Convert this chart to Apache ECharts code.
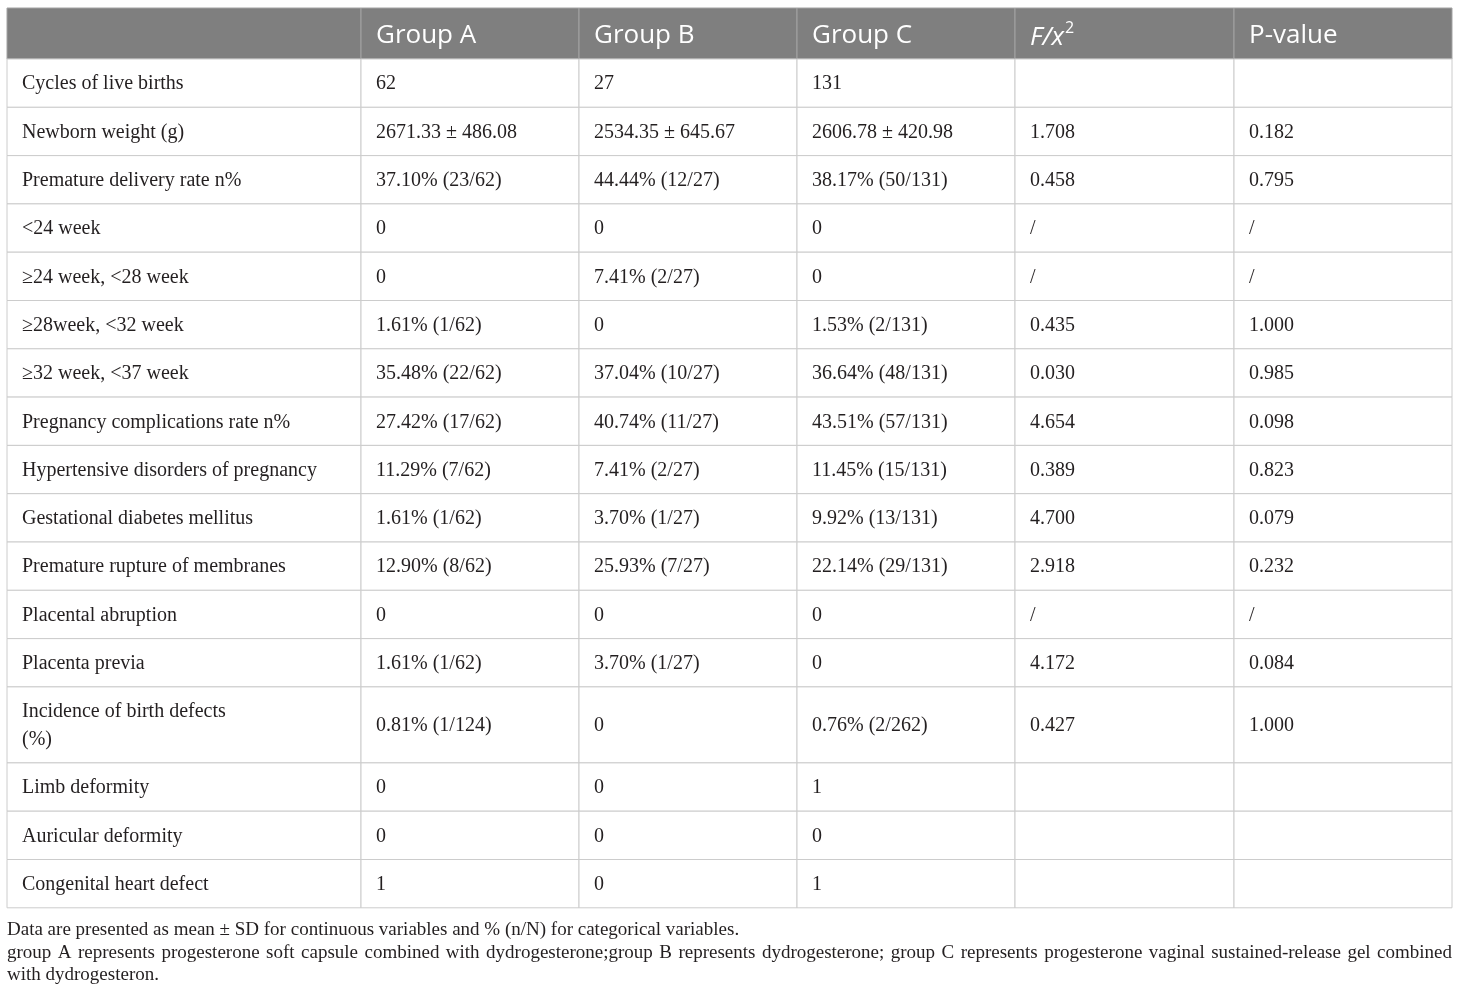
<!DOCTYPE html>
<html>
<head>
<meta charset="utf-8">
<title>Pregnancy outcomes by group</title>
<script src="https://cdn.jsdelivr.net/npm/echarts@6/dist/echarts.min.js"></script>
<style>
    html, body { margin: 0; padding: 0; background: #fff; }
    #main { width: 1460px; height: 995px; }
</style>
</head>
<body>
<div id="main"></div>
<script>
// table content
var headers = ['', 'Group A', 'Group B', 'Group C', 'F/x2', 'P-value'];
var rowLabels = [
    'Cycles of live births',
    'Newborn weight (g)',
    'Premature delivery rate n%',
    '<24 week',
    '\u226524 week, <28 week',
    '\u226528week, <32 week',
    '\u226532 week, <37 week',
    'Pregnancy complications rate n%',
    'Hypertensive disorders of pregnancy',
    'Gestational diabetes mellitus',
    'Premature rupture of membranes',
    'Placental abruption',
    'Placenta previa',
    'Incidence of birth defects\n(%)',
    'Limb deformity',
    'Auricular deformity',
    'Congenital heart defect'
];
var groupA = ['62', '2671.33 \u00b1 486.08', '37.10% (23/62)', '0', '0', '1.61% (1/62)', '35.48% (22/62)',
    '27.42% (17/62)', '11.29% (7/62)', '1.61% (1/62)', '12.90% (8/62)', '0', '1.61% (1/62)', '0.81% (1/124)',
    '0', '0', '1'];
var groupB = ['27', '2534.35 \u00b1 645.67', '44.44% (12/27)', '0', '7.41% (2/27)', '0', '37.04% (10/27)',
    '40.74% (11/27)', '7.41% (2/27)', '3.70% (1/27)', '25.93% (7/27)', '0', '3.70% (1/27)', '0',
    '0', '0', '0'];
var groupC = ['131', '2606.78 \u00b1 420.98', '38.17% (50/131)', '0', '0', '1.53% (2/131)', '36.64% (48/131)',
    '43.51% (57/131)', '11.45% (15/131)', '9.92% (13/131)', '22.14% (29/131)', '0', '0', '0.76% (2/262)',
    '1', '0', '1'];
var fStat = ['', '1.708', '0.458', '/', '/', '0.435', '0.030', '4.654', '0.389', '4.700', '2.918', '/',
    '4.172', '0.427', '', '', ''];
var pValue = ['', '0.182', '0.795', '/', '/', '1.000', '0.985', '0.098', '0.823', '0.079', '0.232', '/',
    '0.084', '1.000', '', '', ''];
var footnotes = [
    'Data are presented as mean \u00b1 SD for continuous variables and % (n/N) for categorical variables.',
    'group A represents progesterone soft capsule combined with dydrogesterone;group B represents dydrogesterone; group C represents progesterone vaginal sustained-release gel combined',
    'with dydrogesteron.'
];

// layout
var colWidths = [354, 218, 218, 218, 219, 218];
var headerHeight = 51;
var rowHeight = 48.3;
var tallRowHeight = 76;
var serif = '"Liberation Serif", "DejaVu Serif", serif';
var sans = '"Open Sans", "Noto Sans", sans-serif';

var colEdges = [0];
colWidths.forEach(function (w) { colEdges.push(colEdges[colEdges.length - 1] + w); });
var rowEdges = [0, headerHeight];
rowLabels.forEach(function (l) {
    var h = l.indexOf('\n') >= 0 ? tallRowHeight : rowHeight;
    rowEdges.push(rowEdges[rowEdges.length - 1] + h);
});
var tableW = colEdges[colEdges.length - 1];
var tableH = rowEdges[rowEdges.length - 1];

var columns = [rowLabels, groupA, groupB, groupC, fStat, pValue];
var cellData = [];
var cellText = [];
for (var c = 0; c < headers.length; c++) {
    cellData.push({ value: [c, 0] });
    cellText.push(headers[c]);
    for (var r = 0; r < rowLabels.length; r++) {
        cellData.push({ value: [c, r + 1] });
        cellText.push(columns[c][r]);
    }
}

function renderCell(params, api) {
    var c = api.value(0), r = api.value(1);
    var p0 = api.coord([colEdges[c], rowEdges[r]]);
    var p1 = api.coord([colEdges[c + 1], rowEdges[r + 1]]);
    var isHead = r === 0;
    var txt = cellText[params.dataIndex];
    var textStyle = {
        x: p0[0] + 15,
        y: (p0[1] + p1[1]) / 2 + (isHead ? 2 : 1),
        text: txt,
        verticalAlign: 'middle',
        align: 'left',
        fill: isHead ? '#ffffff' : '#231f20',
        font: isHead ? ('26px ' + sans) : ('20px ' + serif),
        lineHeight: 28
    };
    if (isHead && txt === 'F/x2') {
        textStyle.text = '{it|F/x}{sup|2}';
        textStyle.rich = {
            it: { fontStyle: 'italic', fontSize: 26, fontFamily: sans, fill: '#fff', verticalAlign: 'bottom', lineHeight: 30 },
            sup: { fontSize: 16, fontFamily: sans, fill: '#fff', verticalAlign: 'top', lineHeight: 30, padding: [0, 0, 12, 1] }
        };
    }
    return {
        type: 'group',
        children: [
            {
                type: 'rect',
                shape: { x: p0[0], y: p0[1], width: p1[0] - p0[0], height: p1[1] - p0[1] },
                style: { fill: isHead ? '#7f7f7f' : '#ffffff', stroke: isHead ? '#a3a3a3' : '#cccccc', lineWidth: 1 }
            },
            { type: 'text', style: textStyle }
        ]
    };
}

// footnotes, second line justified to the table width
var footFont = '19px ' + serif;
var measureCtx = document.createElement('canvas').getContext('2d');
measureCtx.font = footFont;
var footGraphics = [];
var footLeft = 7, footTop = 930, footLine = 22.6;
footnotes.forEach(function (line, i) {
    var y = footTop + i * footLine;
    if (i === 1) {
        var words = line.split(' ');
        var widths = words.map(function (w) { return measureCtx.measureText(w).width; });
        var sum = widths.reduce(function (a, b) { return a + b; }, 0);
        var gap = (tableW - sum) / (words.length - 1);
        var x = footLeft;
        words.forEach(function (w, k) {
            footGraphics.push({ type: 'text', x: x, y: y, style: { text: w, font: footFont, fill: '#231f20', verticalAlign: 'middle' } });
            x += widths[k] + gap;
        });
    } else {
        footGraphics.push({ type: 'text', x: footLeft, y: y, style: { text: line, font: footFont, fill: '#231f20', verticalAlign: 'middle' } });
    }
});

var chart = echarts.init(document.getElementById('main'));
chart.setOption({
    animation: false,
    grid: { left: 7, top: 8, width: tableW, height: tableH },
    xAxis: { type: 'value', min: 0, max: tableW, show: false },
    yAxis: { type: 'value', min: 0, max: tableH, inverse: true, show: false },
    graphic: footGraphics,
    series: [{
        type: 'custom',
        renderItem: renderCell,
        data: cellData,
        silent: true
    }]
});
</script>
</body>
</html>
